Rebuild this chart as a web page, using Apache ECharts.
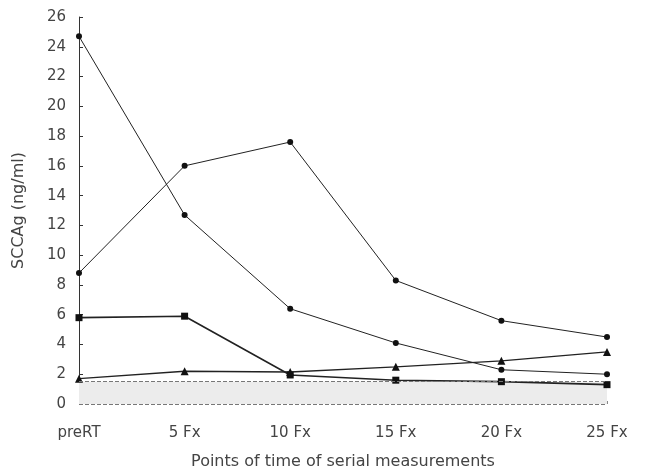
<!DOCTYPE html>
<html><head><meta charset="utf-8">
<script src="https://cdn.jsdelivr.net/npm/echarts@6/dist/echarts.min.js"></script>
<style>html,body{margin:0;padding:0;background:#fff}#c{width:649px;height:475px}</style>
</head><body><div id="c"></div>
<script>
var categories = ['preRT', '5 Fx', '10 Fx', '15 Fx', '20 Fx', '25 Fx'];
var seriesA = [24.7, 12.7, 6.4, 4.1, 2.3, 2.0];
var seriesB = [8.8, 16.0, 17.6, 8.3, 5.6, 4.5];
var seriesC = [5.8, 5.9, 1.95, 1.6, 1.5, 1.3];
var seriesD = [1.7, 2.2, 2.15, 2.5, 2.9, 3.5];
var cutoff = 1.5;

var chart = echarts.init(document.getElementById('c'));
var font = 'DejaVu Sans, sans-serif';
var txt = '#444';
function mk(data, symbol, size, width) {
  return {
    type: 'line', data: data, symbol: symbol, symbolSize: size,
    lineStyle: { color: '#222', width: width },
    itemStyle: { color: '#111' }, z: 3
  };
}
var sC = mk(seriesC, 'rect', 7, 1.6);
var sA = mk(seriesA, 'circle', 6, 1);
sA.markArea = {
  silent: true,
  itemStyle: { color: '#ececec' },
  data: [[{ yAxis: 0 }, { yAxis: cutoff }]]
};
sA.markLine = {
  silent: true, symbol: 'none', label: { show: false },
  lineStyle: { color: '#777', type: 'dashed', width: 1 },
  data: [{ yAxis: 0 }, { yAxis: cutoff }]
};
chart.setOption({
  animation: false,
  backgroundColor: '#fff',
  grid: { left: 79, right: 42, top: 17, bottom: 70 },
  xAxis: {
    type: 'category', data: categories, boundaryGap: false,
    axisLine: { show: false },
    axisTick: { show: true, inside: true, length: 3, lineStyle: { color: '#888' } },
    axisLabel: { color: txt, fontSize: 15, fontFamily: font, margin: 22 },
    name: 'Points of time of serial measurements',
    nameLocation: 'middle', nameGap: 50,
    nameTextStyle: { color: txt, fontSize: 16, fontFamily: font }
  },
  yAxis: {
    type: 'value', min: 0, max: 26, interval: 2,
    splitLine: { show: false },
    axisLine: { show: true, lineStyle: { color: '#333', width: 1 } },
    axisTick: { show: true, inside: true, length: 4, lineStyle: { color: '#333' } },
    axisLabel: { color: txt, fontSize: 15, fontFamily: font, margin: 13 },
    name: 'SCCAg (ng/ml)', nameLocation: 'middle', nameGap: 52,
    nameTextStyle: { color: txt, fontSize: 16, fontFamily: font }
  },
  series: [
    sA,
    mk(seriesB, 'circle', 6, 1),
    sC,
    mk(seriesD, 'triangle', 8, 1.3)
  ]
});
</script></body></html>
